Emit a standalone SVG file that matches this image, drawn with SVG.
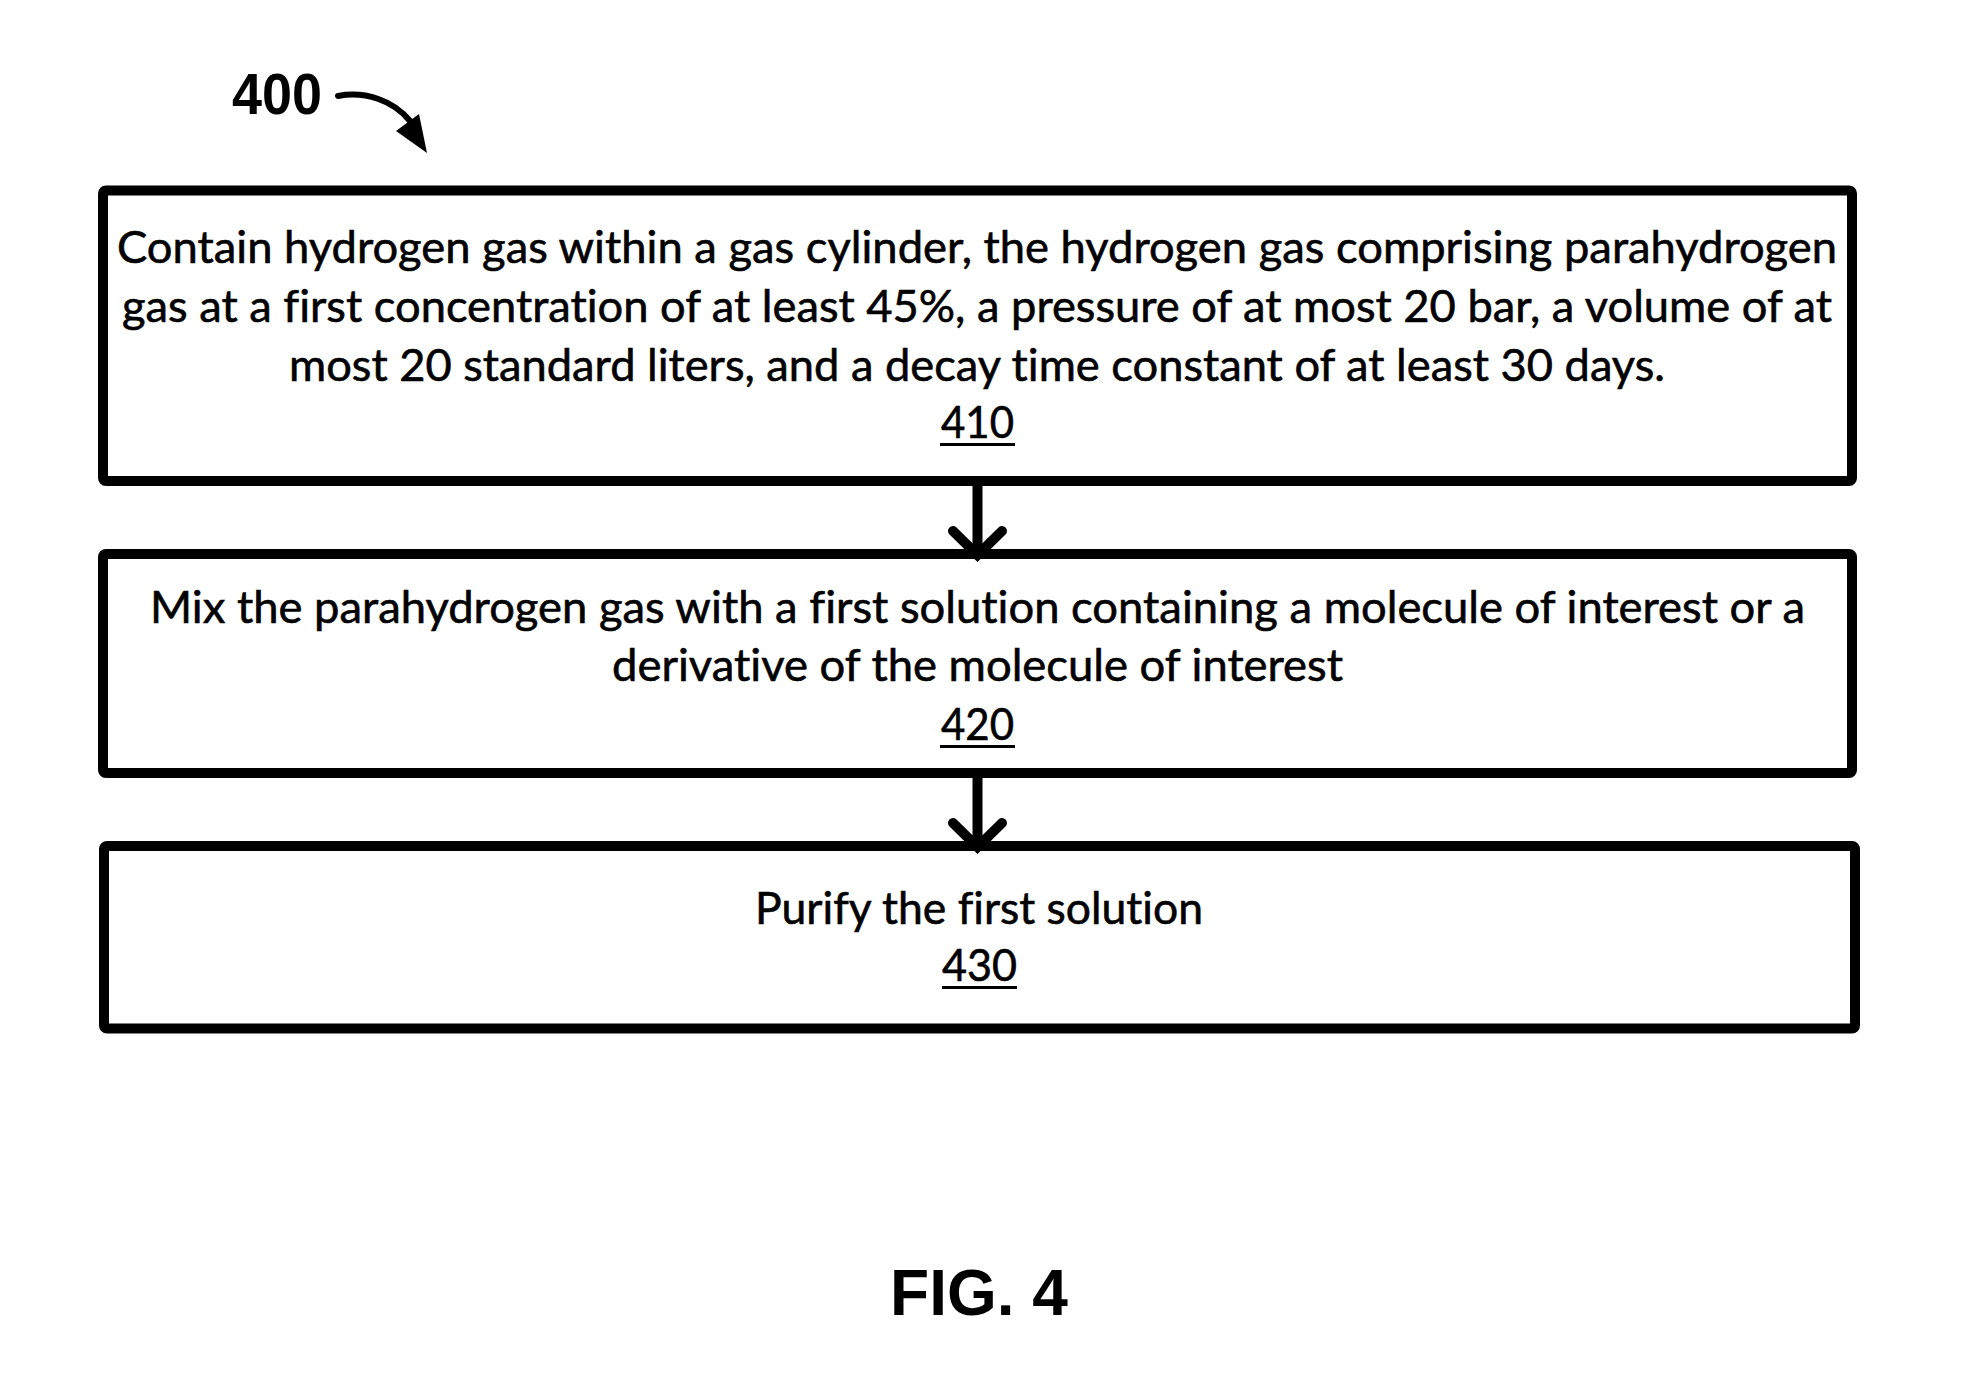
<svg xmlns="http://www.w3.org/2000/svg" width="1965" height="1390" viewBox="0 0 1965 1390">
<style>
.box{fill:#fff;stroke:#000;stroke-width:10;}
.t{font-family:Lato,"Open Sans","Liberation Sans",sans-serif;font-size:45px;fill:#000;stroke:#000;stroke-width:0.6;text-anchor:middle;font-variant-ligatures:none;}
.ul{stroke:#000;stroke-width:3;}
.conn{fill:none;stroke:#000;stroke-width:10;stroke-linecap:round;}
.lbl{font-family:"Liberation Sans",Arial,sans-serif;font-weight:bold;fill:#000;}
</style>
<rect width="1965" height="1390" fill="#fff"/>
<g id="label-400">
<text class="lbl" x="232" y="114" font-size="58" textLength="90" lengthAdjust="spacingAndGlyphs">400</text>
<path d="M338 96 C365 91 393 100 410 121" fill="none" stroke="#000" stroke-width="6" stroke-linecap="round"/>
<polygon points="427,153 396,131 419,114" fill="#000"/>
</g>
<g id="node-410">
<rect class="box" x="103" y="190.5" width="1749" height="290.5" rx="3"/>
<text class="t" x="977" y="263" textLength="1720" lengthAdjust="spacingAndGlyphs">Contain hydrogen gas within a gas cylinder, the hydrogen gas comprising parahydrogen</text>
<text class="t" x="977" y="322" textLength="1710" lengthAdjust="spacingAndGlyphs">gas at a first concentration of at least 45%, a pressure of at most 20 bar, a volume of at</text>
<text class="t" x="977" y="381" textLength="1376" lengthAdjust="spacingAndGlyphs">most 20 standard liters, and a decay time constant of at least 30 days.</text>
<text class="t" x="977.5" y="438" textLength="73" lengthAdjust="spacingAndGlyphs">410</text>
<line class="ul" x1="940" y1="444.5" x2="1015" y2="444.5"/>
</g>
<g id="node-420">
<rect class="box" x="103" y="554" width="1749" height="219" rx="3"/>
<text class="t" x="977.5" y="623" textLength="1655" lengthAdjust="spacingAndGlyphs">Mix the parahydrogen gas with a first solution containing a molecule of interest or a</text>
<text class="t" x="977.5" y="681" textLength="731" lengthAdjust="spacingAndGlyphs">derivative of the molecule of interest</text>
<text class="t" x="977.5" y="740" textLength="73" lengthAdjust="spacingAndGlyphs">420</text>
<line class="ul" x1="940" y1="746.5" x2="1015" y2="746.5"/>
</g>
<g id="node-430">
<rect class="box" x="104" y="846" width="1751" height="182.5" rx="3"/>
<text class="t" x="979" y="924" textLength="448" lengthAdjust="spacingAndGlyphs">Purify the first solution</text>
<text class="t" x="979.5" y="981" textLength="75" lengthAdjust="spacingAndGlyphs">430</text>
<line class="ul" x1="942" y1="987.5" x2="1017" y2="987.5"/>
</g>
<g id="connectors">
<line class="conn" x1="977.5" y1="482" x2="977.5" y2="552" stroke-linecap="butt"/>
<polyline class="conn" points="953,531 977.5,555 1002,531"/>
<line class="conn" x1="977.5" y1="773" x2="977.5" y2="844" stroke-linecap="butt"/>
<polyline class="conn" points="953,823 977.5,847 1002,823"/>
</g>
<text class="lbl" x="979" y="1315" font-size="64" text-anchor="middle">FIG. 4</text>
</svg>
